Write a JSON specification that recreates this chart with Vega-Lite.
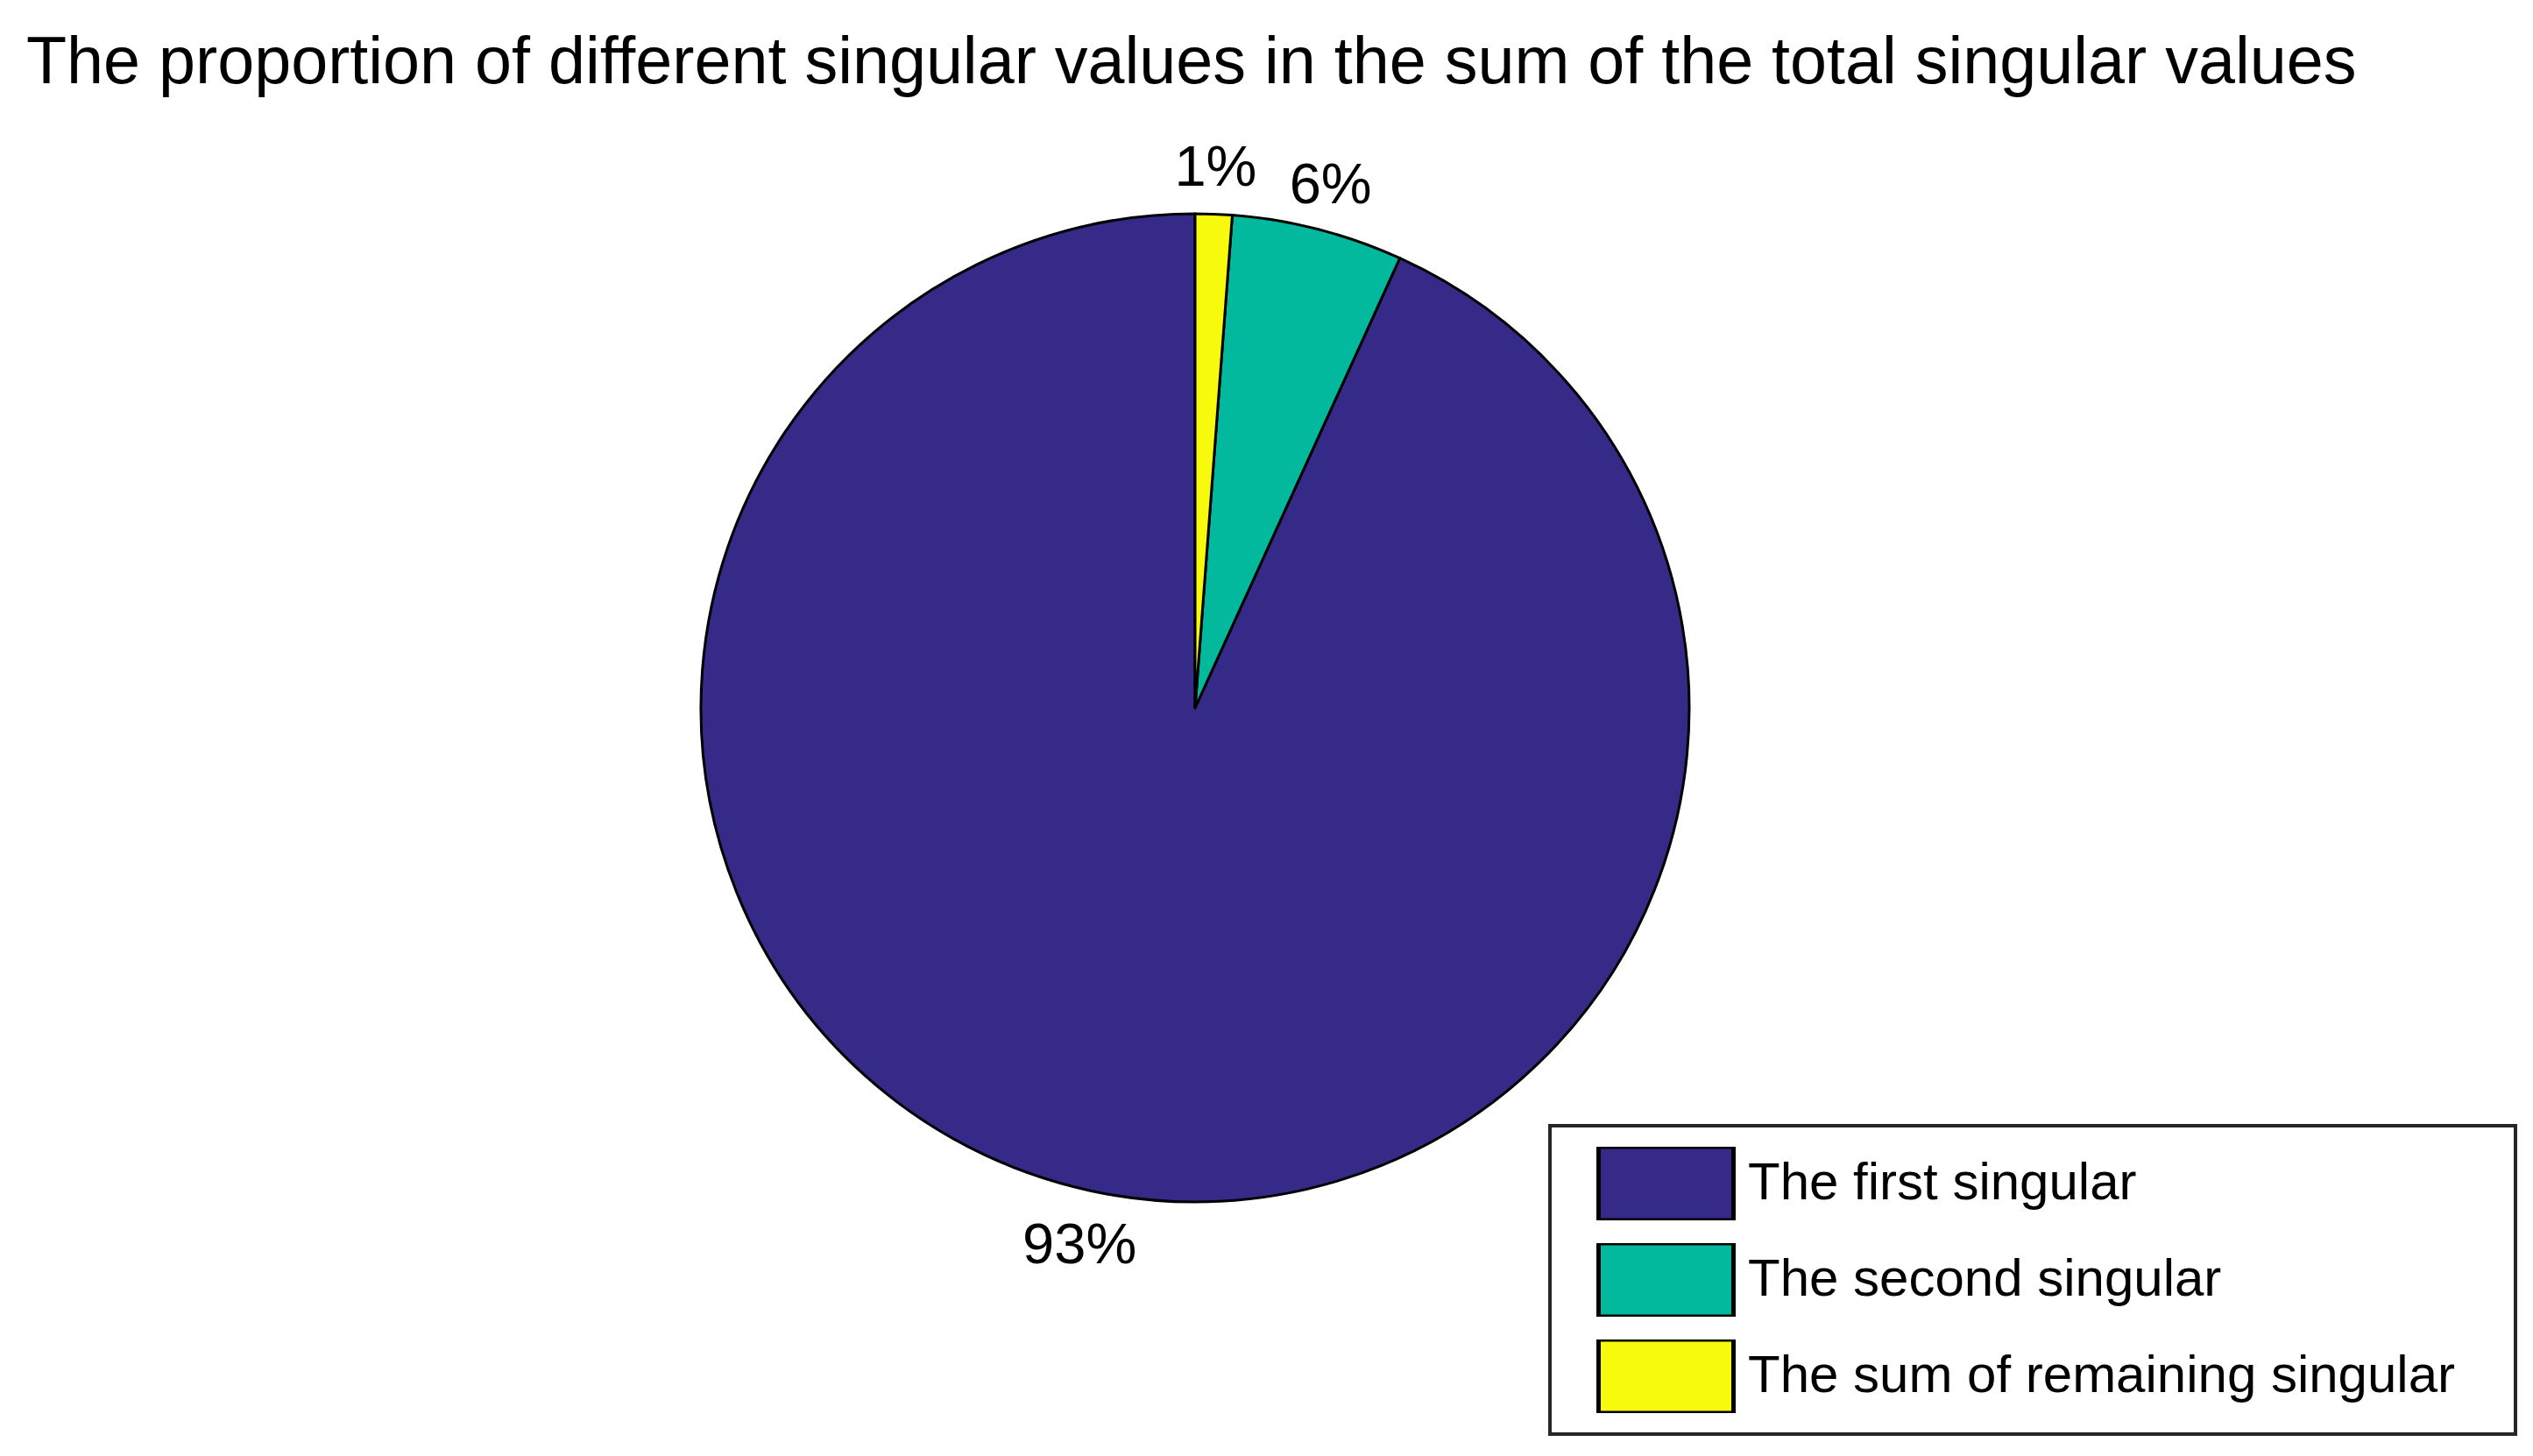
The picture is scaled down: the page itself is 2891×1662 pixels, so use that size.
{
  "$schema": "https://vega.github.io/schema/vega-lite/v6.json",
  "width": 2662,
  "height": 1356,
  "autosize": {"type": "none"},
  "padding": {"left": 33, "top": 130, "right": 196, "bottom": 176},
  "background": "white",
  "config": {"legend": {"strokeWidth": 4}},
  "title": {
    "text": "The proportion of different singular values in the sum of the total singular values",
    "anchor": "start",
    "frame": "group",
    "font": "Liberation Sans",
    "fontSize": 75.5,
    "fontWeight": "normal",
    "color": "black",
    "baseline": "alphabetic",
    "offset": 33,
    "dy": 73,
    "dx": -3
  },
  "data": {
    "values": [
      {"name": "The first singular", "value": 93.2, "label": "93%", "ord": 3},
      {"name": "The second singular", "value": 5.6, "label": "6%", "ord": 2},
      {"name": "The sum of remaining singular", "value": 1.2, "label": "1%", "ord": 1}
    ]
  },
  "encoding": {
    "theta": {"field": "value", "type": "quantitative", "stack": true},
    "order": {"field": "ord", "type": "quantitative"}
  },
  "layer": [
    {
      "mark": {"type": "arc", "radius": 564, "stroke": "black", "strokeWidth": 3, "strokeJoin": "round"},
      "encoding": {
        "color": {
          "field": "name",
          "type": "nominal",
          "scale": {
            "domain": ["The first singular", "The second singular", "The sum of remaining singular"],
            "range": ["#352A87", "#02B89D", "#F8FA0D"]
          },
          "legend": {
            "title": null,
            "orient": "none",
            "legendX": 1736,
            "legendY": 1155,
            "padding": 24,
            "symbolOffset": 64,
            "strokeColor": "#262626",
            "fillColor": "white",
            "symbolType": "M-1.833,-1H1.833V1H-1.833Z",
            "symbolSize": 7056,
            "symbolStrokeColor": "black",
            "symbolStrokeWidth": 5,
            "symbolOpacity": 1,
            "labelFont": "Liberation Sans",
            "labelFontSize": 60,
            "labelColor": "black",
            "labelOffset": 49,
            "labelLimit": 2000,
            "labelExpr": "datum.label + '\u2800'",
            "clipHeight": 84,
            "rowPadding": 26
          }
        }
      }
    },
    {
      "mark": {"type": "text", "radius": 622, "font": "Liberation Sans", "fontSize": 65, "color": "black", "align": "center", "baseline": "middle", "dy": 6},
      "encoding": {
        "text": {"field": "label", "type": "nominal"}
      }
    }
  ]
}
